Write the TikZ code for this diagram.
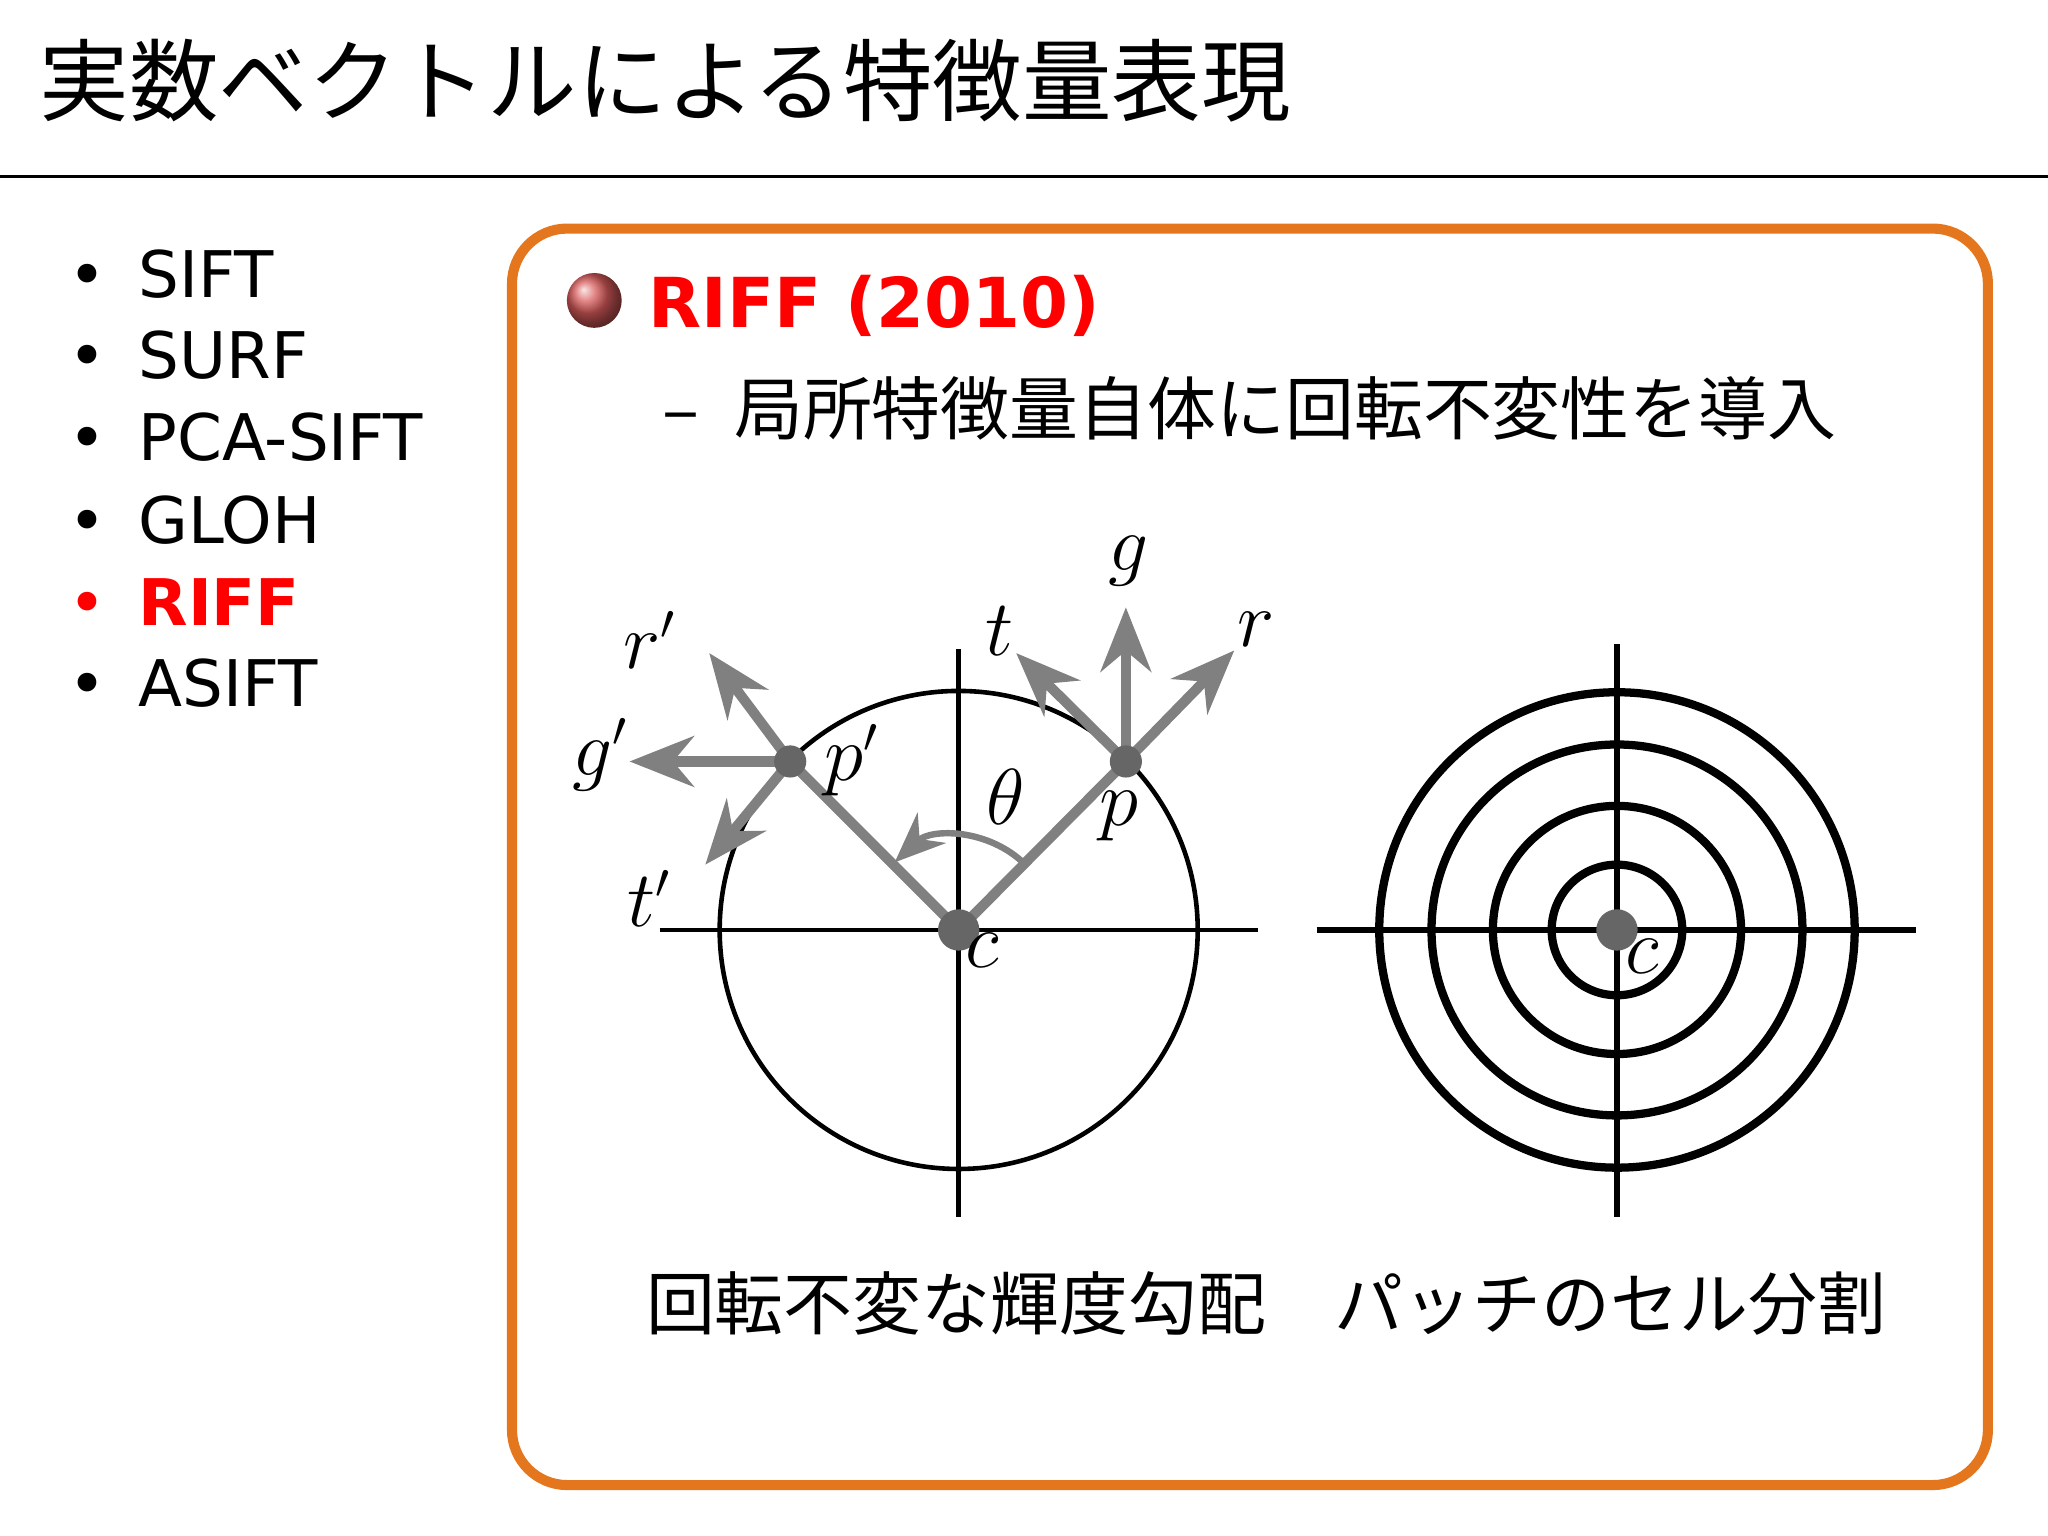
\documentclass[tikz,border=0pt]{standalone}
\usepackage{fontspec}
\setmainfont{DejaVu Sans}
\newfontfamily\jp{Noto Sans CJK JP}
\usetikzlibrary{arrows.meta}
\definecolor{obox}{RGB}{228,118,30}
\definecolor{gr}{RGB}{128,128,128}
\definecolor{ballc}{RGB}{215,90,90}
\begin{document}
\begin{tikzpicture}[x=0.01cm,y=-0.01cm,
 bul/.style={anchor=west,font=\fontsize{14}{18}\selectfont},
 garr/.style={gr,line width=2.2pt,-{Stealth[length=14pt,width=11pt]}},
 lab/.style={font=\fontsize{16}{18}\selectfont\itshape},
 dot/.style={circle,fill=gr!80!black,inner sep=0pt,minimum size=9pt},
 ring/.style={line width=1.8pt}]
\useasboundingbox (0,0) rectangle (1568,1176);
\node[anchor=west,font=\jp\fontsize{19.5}{24}\selectfont] (title) at (18,62) {実数ベクトルによる特徴量表現};
\draw[line width=0.6pt] (0,135) -- (1568,135);
\foreach \t/\y [count=\i] in {SIFT/210,SURF/272,PCA-SIFT/335,GLOH/398}
  \node[bul] (b\i) at (40,\y) {•\hspace{0.5em}\t};
\node[bul,red] (b5) at (40,461) {•\hspace{0.5em}\textbf{RIFF}};
\node[bul] (b6) at (40,523) {•\hspace{0.5em}ASIFT};
\draw[obox,line width=2.2pt,rounded corners=12pt] (392,175) rectangle (1522,1137);
\shade[ball color=ballc] (455,230) circle (21);
\node[anchor=west,red,font=\bfseries\fontsize{15}{20}\selectfont] (riff) at (484,234) {RIFF (2010)};
\node[anchor=west,font=\jp\fontsize{15}{18}\selectfont] (sub) at (495,313) {–\hspace{0.5em}局所特徴量自体に回転不変性を導入};
% left diagram
\coordinate (c) at (734,712);
\draw[line width=1pt] (c) circle (183);
\draw[line width=1pt] (505,712) -- (963,712);
\draw[line width=1pt] (734,497) -- (734,932);
\coordinate (p) at (862,583);
\coordinate (pp) at (605,583);
\draw[gr,line width=2.2pt] (c) -- (p);
\draw[gr,line width=2.2pt] (c) -- (pp);
\draw[garr] (p) -- (862,465);
\draw[garr] (p) -- (945,498);
\draw[garr] (p) -- (778,500);
\draw[garr] (pp) -- (543,500);
\draw[garr] (pp) -- (482,583);
\draw[garr] (pp) -- (540,662);
\draw[gr,line width=1.4pt,-{Stealth[length=11pt,width=9pt]}] (785,662) arc[start angle=-45,end angle=-133,radius=72];
\node[dot] (cd) at (c) {};
\node[circle,fill=gr!80!black,inner sep=0pt,minimum size=7pt] (pd) at (p) {};
\node[circle,fill=gr!80!black,inner sep=0pt,minimum size=7pt] (ppd) at (pp) {};
\node[lab] (lg) at (864,430) {$g$};
\node[lab] (lr) at (962,482) {$r$};
\node[lab] (lt) at (765,483) {$t$};
\node[lab] (lrp) at (498,490) {$r'$};
\node[lab] (lgp) at (460,578) {$g'$};
\node[lab] (ltp) at (497,688) {$t'$};
\node[lab] (lpp) at (652,582) {$p'$};
\node[lab] (lp) at (857,625) {$p$};
\node[lab] (lth) at (770,610) {$\theta$};
\node[lab] (lc) at (752,728) {$c$};
% right diagram
\coordinate (c2) at (1238,712);
\foreach \r in {50,95,142,182} \draw[ring] (c2) circle (\r);
\draw[line width=1.2pt] (1008,712) -- (1467,712);
\draw[line width=1.2pt] (1238,493) -- (1238,932);
\node[dot] (c2d) at (c2) {};
\node[lab] (lc2) at (1257,732) {$c$};
\node[font=\jp\fontsize{15}{18}\selectfont] (cap1) at (732,998) {回転不変な輝度勾配};
\node[font=\jp\fontsize{15}{18}\selectfont] (cap2) at (1233,998) {パッチのセル分割};
\end{tikzpicture}
\end{document}
